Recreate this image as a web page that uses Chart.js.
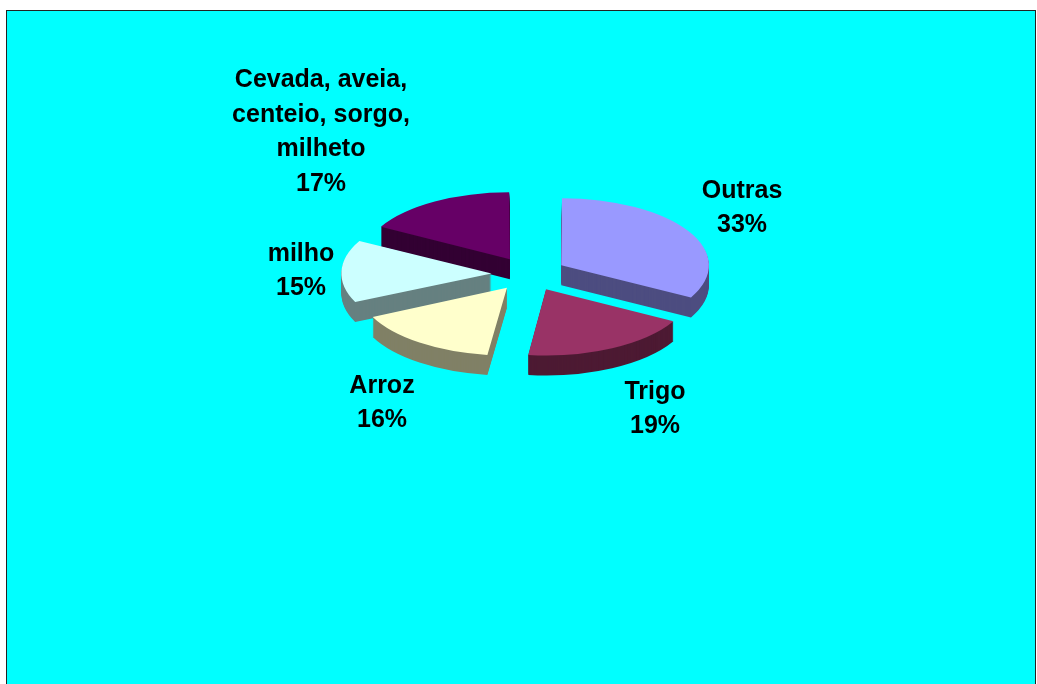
<!DOCTYPE html>
<html>
<head>
<meta charset="utf-8">
<script src="https://cdn.jsdelivr.net/npm/chart.js@4/dist/chart.umd.min.js"></script>
<style>
  html, body { margin: 0; padding: 0; background: #fff; }
  #frame {
    position: absolute; left: 6px; top: 10px; width: 1028px; height: 680px;
    background: #00ffff;
    border-top: 1px solid #222; border-left: 1px solid #222; border-right: 1px solid #222;
  }
  #chart { position: absolute; left: 0; top: 0; }
</style>
</head>
<body>
<div id="frame"></div>
<canvas id="chart" width="1037" height="684"></canvas>
<script>
// slices, clockwise from 12 o'clock
const categories = ['Outras', 'Trigo', 'Arroz', 'milho', ['Cevada, aveia,', 'centeio, sorgo,', 'milheto']];
const shares = [33, 19, 16, 15, 17];

const topColors = ['#9999ff', '#993366', '#ffffcc', '#ccffff', '#660066'];
const sideColors = ['#4d4d80', '#4d1a33', '#808066', '#668080', '#330033'];

// label block centres, relative to the pie centre
const labelOffsets = [[213, -68], [126, 133], [-147, 127], [-228, -5], [-208, -144]];

const TILT = 0.455;   // vertical squash of the pie
const DEPTH = 20;     // thickness of the pie in px
const LINE_H = 34.5;

function squash(ctx, x, y, dy) {
  ctx.translate(x, y + dy);
  ctx.scale(1, TILT);
  ctx.translate(-x, -y);
}

const pie3d = {
  id: 'pie3d',
  beforeDatasetsDraw(chart) {
    const ctx = chart.ctx;
    const arcs = chart.getDatasetMeta(0).data;
    const { x, y } = arcs[0];

    // side walls: stacked copies of every slice in the darker colour
    for (let k = DEPTH; k >= 1; k--) {
      ctx.save();
      squash(ctx, x, y, k);
      arcs.forEach((arc, i) => {
        const wall = Object.create(arc);
        wall.options = Object.assign({}, arc.options, { backgroundColor: sideColors[i] });
        wall.draw(ctx);
      });
      ctx.restore();
    }

    // top faces
    ctx.save();
    squash(ctx, x, y, 0);
    arcs.forEach(arc => arc.draw(ctx));
    ctx.restore();
    return false;
  },
  afterDraw(chart) {
    const ctx = chart.ctx;
    const arcs = chart.getDatasetMeta(0).data;
    const { x, y } = arcs[0];
    const values = chart.data.datasets[0].data;
    ctx.save();
    ctx.font = 'bold 25px "Liberation Sans", Arial, sans-serif';
    ctx.fillStyle = '#000';
    ctx.textAlign = 'center';
    ctx.textBaseline = 'alphabetic';
    chart.data.labels.forEach((label, i) => {
      const lines = [].concat(label, values[i] + '%');
      const cx = x + labelOffsets[i][0];
      const cy = y + labelOffsets[i][1];
      const first = cy - (lines.length - 1) * LINE_H / 2 + 9;
      lines.forEach((t, j) => ctx.fillText(t, cx, first + j * LINE_H));
    });
    ctx.restore();
  }
};

new Chart(document.getElementById('chart'), {
  type: 'pie',
  data: {
    labels: categories,
    datasets: [{
      data: shares,
      backgroundColor: topColors,
      borderWidth: 0,
      offset: 150,
      radius: 143
    }]
  },
  options: {
    responsive: false,
    animation: false,
    layout: { padding: { left: 21, right: 0, top: 0, bottom: 136 } },
    plugins: {
      legend: { display: false },
      tooltip: { enabled: false }
    }
  },
  plugins: [pie3d]
});
</script>
</body>
</html>
